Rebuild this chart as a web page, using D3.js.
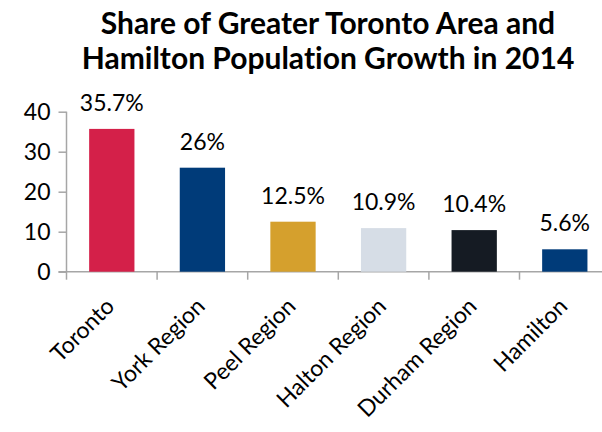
<!DOCTYPE html>
<html>
<head>
<meta charset="utf-8">
<script src="https://cdn.jsdelivr.net/npm/d3@7"></script>
<style>
  html, body { margin: 0; padding: 0; background: #fff; }
  svg { display: block; font-family: Lato, "Open Sans", sans-serif; font-variant-ligatures: none; }
</style>
</head>
<body>
<svg id="chart" width="602" height="432"></svg>
<script>
// Share of GTA + Hamilton population growth, 2014 (%)
const regions = ["Toronto", "York Region", "Peel Region", "Halton Region", "Durham Region", "Hamilton"];
const shares = [35.7, 26, 12.5, 10.9, 10.4, 5.6];
const shareLabels = ["35.7%", "26%", "12.5%", "10.9%", "10.4%", "5.6%"];
const barColors = ["#d42049", "#003b79", "#d5a02d", "#d6dde6", "#151b23", "#003b79"];
const yTicks = [0, 10, 20, 30, 40];
const titleLines = ["Share of Greater Toronto Area and", "Hamilton Population Growth in 2014"];

const svg = d3.select("#chart");
const margin = { left: 66.5, top: 111.7, bottom: 271.7 };
const bandStep = 90.6;
const axisColor = "#a6a6a6";

const x = d3.scaleBand()
  .domain(regions)
  .range([margin.left, margin.left + bandStep * regions.length])
  .paddingInner(0.5)
  .paddingOuter(0.25);

const y = d3.scaleLinear()
  .domain([0, 40])
  .range([margin.bottom, margin.top]);

// Title
svg.append("g")
  .selectAll("text")
  .data(titleLines)
  .join("text")
  .attr("x", 328)
  .attr("y", (d, i) => 33.5 + i * 35)
  .attr("text-anchor", "middle")
  .attr("font-size", 30)
  .attr("font-weight", "bold")
  .attr("fill", "#000")
  .text(d => d);

// Y axis
const yAxis = svg.append("g")
  .attr("transform", `translate(${margin.left},0)`)
  .call(d3.axisLeft(y).tickValues(yTicks).tickSize(8).tickPadding(8));
yAxis.select(".domain").attr("stroke", axisColor).attr("stroke-width", 1.5)
  .attr("d", `M0,${y(40)}V${y(0)}`);
yAxis.selectAll(".tick line").attr("stroke", axisColor).attr("stroke-width", 1.5);
yAxis.selectAll(".tick text").attr("font-size", 23).attr("fill", "#000")
  .attr("font-family", "Lato, 'Open Sans', sans-serif");

// X axis baseline with ticks at band boundaries
const xAxisG = svg.append("g").attr("transform", `translate(0,${y(0)})`);
xAxisG.append("line")
  .attr("x1", margin.left - 8)
  .attr("x2", margin.left + bandStep * regions.length)
  .attr("stroke", axisColor).attr("stroke-width", 1.5);
xAxisG.selectAll("line.tick")
  .data(d3.range(regions.length + 1))
  .join("line")
  .attr("class", "tick")
  .attr("x1", i => margin.left + i * bandStep)
  .attr("x2", i => margin.left + i * bandStep)
  .attr("y1", 0).attr("y2", 8)
  .attr("stroke", axisColor).attr("stroke-width", 1.5);

// Bars
svg.append("g")
  .selectAll("rect")
  .data(regions)
  .join("rect")
  .attr("x", d => x(d))
  .attr("width", x.bandwidth())
  .attr("y", (d, i) => y(shares[i]))
  .attr("height", (d, i) => y(0) - y(shares[i]))
  .attr("fill", (d, i) => barColors[i]);

// Value labels
svg.append("g")
  .selectAll("text")
  .data(regions)
  .join("text")
  .attr("x", d => x(d) + x.bandwidth() / 2)
  .attr("y", (d, i) => y(shares[i]) - 18)
  .attr("text-anchor", "middle")
  .attr("font-size", 23)
  .attr("fill", "#000")
  .text((d, i) => shareLabels[i]);

// Category labels, rotated
svg.append("g")
  .selectAll("text")
  .data(regions)
  .join("text")
  .attr("transform", d => `translate(${x(d) + x.bandwidth() / 2 + 4},${y(0) + 36}) rotate(-45)`)
  .attr("text-anchor", "end")
  .attr("font-size", 23)
  .attr("fill", "#000")
  .text(d => d);
</script>
</body>
</html>
